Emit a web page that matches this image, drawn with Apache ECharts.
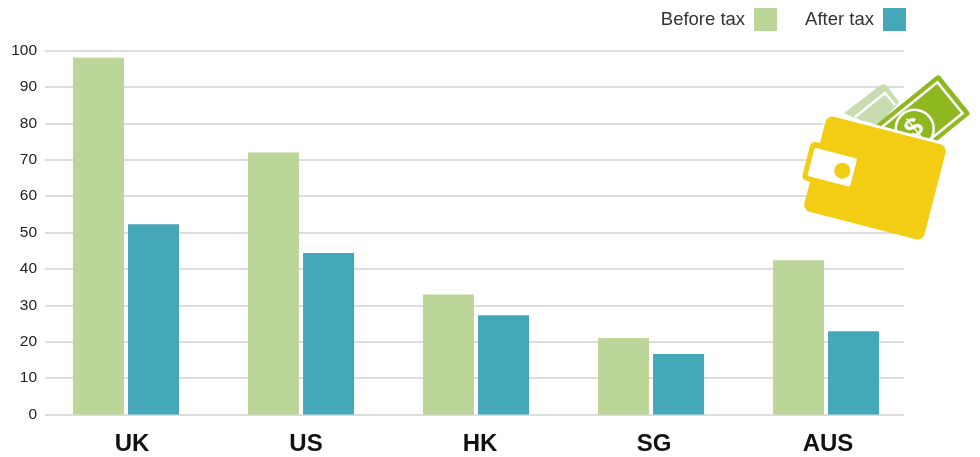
<!DOCTYPE html>
<html>
<head>
<meta charset="utf-8">
<style>html,body{margin:0;padding:0;background:#fff}#chart{width:980px;height:457px}</style>
<script src="https://cdn.jsdelivr.net/npm/echarts@6/dist/echarts.min.js"></script>
</head>
<body>
<div id="chart"></div>
<script>
const categories = ['UK', 'US', 'HK', 'SG', 'AUS'];
const beforeTax = [98, 72, 33, 21, 42.4];
const afterTax = [52.3, 44.4, 27.3, 16.6, 22.9];
const valueTicks = [0, 100];

const FONT = 'Liberation Sans, Arial, sans-serif';
const GREEN = '#bcd598';
const TEAL = '#44a8b9';
const PLOT_TOP = 50.5, PLOT_HEIGHT = 364;

const chart = echarts.init(document.getElementById('chart'), null, { renderer: 'canvas' });

// Wallet illustration sitting over the right end of the plot
function walletIcon() {
  const deg = d => d * Math.PI / 180;
  const Z = 20;
  const lightNote = {
    type: 'polygon', z: Z,
    shape: { points: [[844, 113], [881, 85], [884, 84], [887, 86], [899, 102], [880, 125], [860, 120]] },
    style: { fill: '#c9dcb0' }
  };
  const lightBorder = {
    type: 'polyline', z: Z,
    shape: { points: [[855, 117], [885, 93], [895, 105]] },
    style: { stroke: '#fff', lineWidth: 2.5, fill: null }
  };
  const noteFill = '#8fb820';
  const note = {
    type: 'group', x: 915, y: 126, rotation: deg(39),
    children: [
      { type: 'rect', z: Z, shape: { x: -51, y: -25.5, width: 102, height: 51, r: 3 }, style: { fill: noteFill } },
      { type: 'rect', z: Z, shape: { x: -45, y: -20, width: 90, height: 40 }, style: { fill: 'none', stroke: '#fff', lineWidth: 2.5 } },
      { type: 'circle', z: Z, shape: { cx: -2, cy: 2, r: 19 }, style: { fill: noteFill, stroke: '#fff', lineWidth: 2.5 } },
      { type: 'text', z: Z, x: -2, y: 2, style: { text: '$', fill: '#fff', font: 'bold 28px ' + FONT, align: 'center', verticalAlign: 'middle' } }
    ]
  };
  const walletGroup = {
    type: 'group', x: 875, y: 178, rotation: deg(-14.5),
    children: [
      { type: 'rect', z: Z, shape: { x: -64, y: -52, width: 128, height: 30, r: 6 }, style: { fill: '#fff' } },
      { type: 'rect', z: Z, shape: { x: -62, y: -49, width: 124, height: 98, r: 7 }, style: { fill: '#f3cd14' } },
      { type: 'rect', z: Z, shape: { x: -71, y: -20, width: 40, height: 40, r: 5 }, style: { fill: '#f3cd14' } },
      { type: 'rect', z: Z, shape: { x: -66, y: -14.2, width: 44, height: 29, r: 1.5 }, style: { fill: '#fff' } },
      { type: 'circle', z: Z, shape: { cx: -33.5, cy: 1.1, r: 8 }, style: { fill: '#f3cd14' } }
    ]
  };
  return { type: 'group', silent: true, children: [lightNote, lightBorder, note, walletGroup] };
}

chart.setOption({
  animation: false,
  backgroundColor: '#fff',
  textStyle: { fontFamily: FONT },
  legend: {
    top: 3, right: 69, itemGap: 28, itemWidth: 23, itemHeight: 23, align: 'right',
    textStyle: { fontSize: 18.5, color: '#333', fontFamily: FONT, padding: [0, 4, 0, 0] },
    data: [
      { name: 'Before tax', icon: 'rect' },
      { name: 'After tax', icon: 'rect' }
    ]
  },
  // Rules, columns and category names each span a slightly different width
  grid: [
    { left: 45, width: 859, top: PLOT_TOP, height: PLOT_HEIGHT },
    { left: 38.5, width: 875, top: PLOT_TOP, height: PLOT_HEIGHT },
    { left: 45, width: 870, top: PLOT_TOP, height: PLOT_HEIGHT }
  ],
  xAxis: [
    { gridIndex: 0, type: 'category', data: categories, show: false },
    { gridIndex: 1, type: 'category', data: categories, show: false },
    {
      gridIndex: 2, type: 'category', data: categories,
      axisLine: { show: false }, axisTick: { show: false },
      axisLabel: { margin: 18, fontSize: 24, fontWeight: 'bold', color: '#111', fontFamily: FONT }
    }
  ],
  yAxis: [
    {
      gridIndex: 0, type: 'value', min: valueTicks[0], max: valueTicks[1], interval: 10,
      axisLine: { show: false }, axisTick: { show: false },
      axisLabel: { margin: 8, fontSize: 15.5, color: '#222', fontFamily: FONT },
      splitLine: { lineStyle: { color: '#d2d2d2', width: 1.5 } }
    },
    { gridIndex: 1, type: 'value', min: valueTicks[0], max: valueTicks[1], show: false, splitLine: { show: false } },
    { gridIndex: 2, type: 'value', min: valueTicks[0], max: valueTicks[1], show: false, splitLine: { show: false } }
  ],
  series: [
    { name: 'Before tax', type: 'bar', xAxisIndex: 1, yAxisIndex: 1, data: beforeTax, barWidth: 51, barGap: '8%', itemStyle: { color: GREEN } },
    { name: 'After tax', type: 'bar', xAxisIndex: 1, yAxisIndex: 1, data: afterTax, barWidth: 51, barGap: '8%', itemStyle: { color: TEAL } }
  ],
  graphic: [walletIcon()]
});
</script>
</body>
</html>
